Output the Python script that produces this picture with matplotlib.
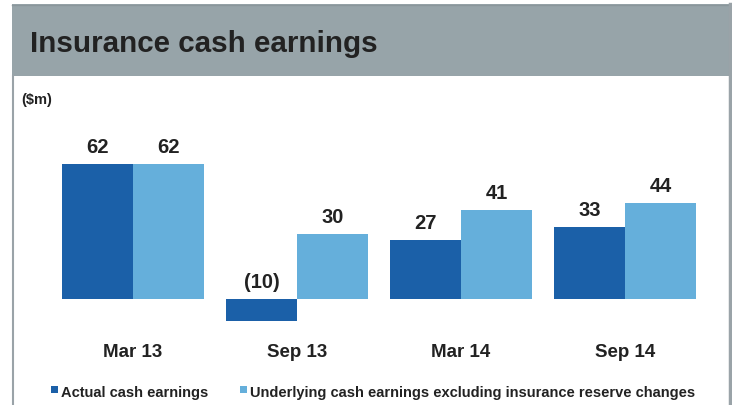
import numpy as np
import matplotlib.pyplot as plt
from matplotlib.patches import Rectangle

plt.rcParams["font.family"] = ["Liberation Sans", "DejaVu Sans"]

periods = ["Mar 13", "Sep 13", "Mar 14", "Sep 14"]
actual = [62, -10, 27, 33]
underlying = [62, 30, 41, 44]
series_names = ["Actual cash earnings",
                "Underlying cash earnings excluding insurance reserve changes"]

DARK = "#1b60a8"
LIGHT = "#65afdb"
HEADER = "#97a4a9"
EDGE = "#9aa3a8"
TEXT = "#222222"

W, H = 732, 406
fig = plt.figure(figsize=(W / 100, H / 100), dpi=100)

# header band and box border, in pixel coordinates
bg = fig.add_axes([0, 0, 1, 1])
bg.set_xlim(0, W)
bg.set_ylim(H, 0)
bg.axis("off")
bg.add_patch(Rectangle((12, 5), 717, 72, facecolor=HEADER, edgecolor="none"))
bg.plot([12, 729], [5.5, 5.5], color="#8a969b", lw=1)
bg.plot([12.5, 12.5], [77, H], color=EDGE, lw=1.5)
bg.plot([730, 730], [5, H], color=EDGE, lw=2.5)
bg.text(30, 52, "Insurance cash earnings", fontsize=21.3, fontweight="bold",
        color=TEXT, va="baseline", ha="left")
bg.text(21, 100, "($m)", fontsize=10.5, fontweight="bold", color=TEXT,
        va="center", ha="left")

# bar chart axes: group spacing 164 px, baseline at y=300 px, 2.18 px per $m
ax = fig.add_axes([0, 0, 1, 1], facecolor="none")
px_x, x0 = 164.0, 133.0
px_y, y0 = 2.18, 300.0
ax.set_xlim(-x0 / px_x, (W - x0) / px_x)
ax.set_ylim(-(H - y0) / px_y, y0 / px_y)
ax.axis("off")

x = np.arange(len(periods))
bw = 71 / px_x
ax.bar(x - bw / 2, actual, bw, color=DARK, linewidth=0)
ax.bar(x + bw / 2, underlying, bw, color=LIGHT, linewidth=0)

def fmt(v):
    return f"({abs(v)})" if v < 0 else f"{v}"

for xi, a, u in zip(x, actual, underlying):
    for off, v in ((-bw / 2, a), (bw / 2, u)):
        top = max(v, 0)
        ax.text(xi + off, top + 12 / px_y, fmt(v), ha="center", va="baseline",
                fontsize=14.5, fontweight="bold", color=TEXT)
    ax.text(xi, -57 / px_y, periods[xi], ha="center", va="baseline",
            fontsize=13.5, fontweight="bold", color=TEXT)

# legend
bg.add_patch(Rectangle((51, 387), 7, 7, facecolor=DARK, edgecolor="none"))
bg.text(61, 393, series_names[0], fontsize=10.5, fontweight="bold",
        color=TEXT, va="center", ha="left")
bg.add_patch(Rectangle((240, 387), 7, 7, facecolor=LIGHT, edgecolor="none"))
bg.text(250, 393, series_names[1], fontsize=10.5, fontweight="bold",
        color=TEXT, va="center", ha="left")

fig.savefig("out.png", dpi=100)
